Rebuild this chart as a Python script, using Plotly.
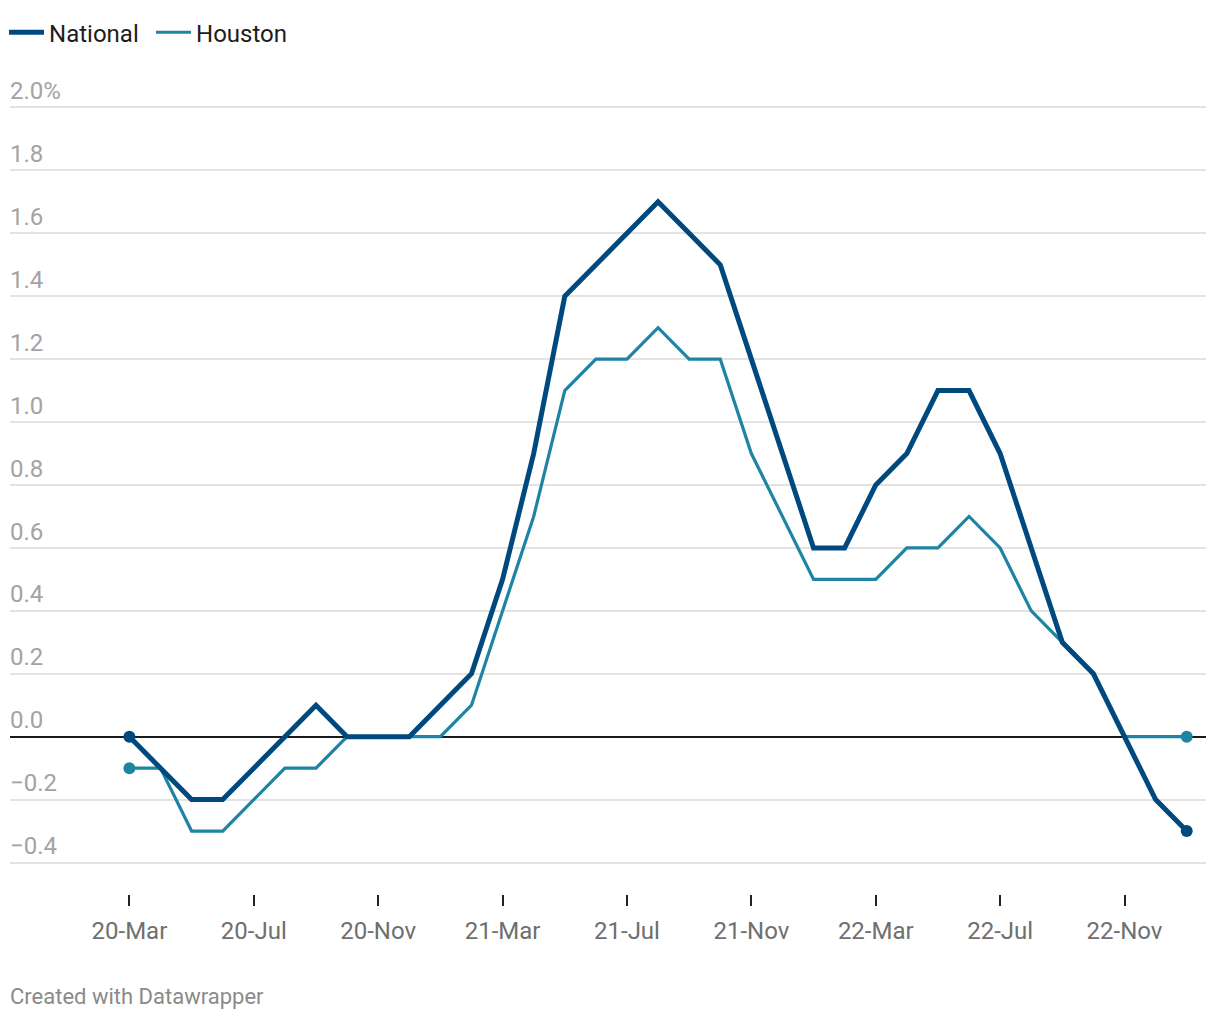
import plotly.graph_objects as go

months = ["20-Mar","20-Apr","20-May","20-Jun","20-Jul","20-Aug","20-Sep","20-Oct","20-Nov","20-Dec",
          "21-Jan","21-Feb","21-Mar","21-Apr","21-May","21-Jun","21-Jul","21-Aug","21-Sep","21-Oct",
          "21-Nov","21-Dec","22-Jan","22-Feb","22-Mar","22-Apr","22-May","22-Jun","22-Jul","22-Aug",
          "22-Sep","22-Oct","22-Nov","22-Dec","23-Jan"]
national = [0.0,-0.1,-0.2,-0.2,-0.1,0.0,0.1,0.0,0.0,0.0,
            0.1,0.2,0.5,0.9,1.4,1.5,1.6,1.7,1.6,1.5,
            1.2,0.9,0.6,0.6,0.8,0.9,1.1,1.1,0.9,0.6,
            0.3,0.2,0.0,-0.2,-0.3]
houston = [-0.1,-0.1,-0.3,-0.3,-0.2,-0.1,-0.1,0.0,0.0,0.0,
           0.0,0.1,0.4,0.7,1.1,1.2,1.2,1.3,1.2,1.2,
           0.9,0.7,0.5,0.5,0.5,0.6,0.6,0.7,0.6,0.4,
           0.3,0.2,0.0,0.0,0.0]
y_ticks = [-0.4,-0.2,0.0,0.2,0.4,0.6,0.8,1.0,1.2,1.4,1.6,1.8,2.0]
y_tick_text = ["−0.4","−0.2","0.0","0.2","0.4","0.6","0.8","1.0","1.2","1.4","1.6","1.8","2.0%"]
x_tick_labels = ["20-Mar","20-Jul","20-Nov","21-Mar","21-Jul","21-Nov","22-Mar","22-Jul","22-Nov"]

C_NAT = "#00497f"
C_HOU = "#1f84a3"

x = list(range(len(months)))
x_tick_vals = [months.index(m) for m in x_tick_labels]

fig = go.Figure()
fig.add_trace(go.Scatter(x=x, y=houston, mode="lines", name="Houston",
                         line=dict(color=C_HOU, width=3.2)))
fig.add_trace(go.Scatter(x=[x[0], x[-1]], y=[houston[0], houston[-1]], mode="markers",
                         marker=dict(color=C_HOU, size=12), showlegend=False, hoverinfo="skip"))
fig.add_trace(go.Scatter(x=x, y=national, mode="lines", name="National",
                         line=dict(color=C_NAT, width=5)))
fig.add_trace(go.Scatter(x=[x[0], x[-1]], y=[national[0], national[-1]], mode="markers",
                         marker=dict(color=C_NAT, size=12), showlegend=False, hoverinfo="skip"))

fig.update_layout(
    width=1212, height=1012,
    margin=dict(l=2, r=14, t=67.5, b=125.5, autoexpand=False),
    paper_bgcolor="white", plot_bgcolor="white",
    font=dict(family="Roboto", size=24, color="#222"),
    showlegend=True,
    legend=dict(orientation="h", x=-0.005, xanchor="left", y=1.053, yanchor="middle",
                traceorder="reversed", font=dict(size=24, color="#1d1d1d"),
                bgcolor="rgba(0,0,0,0)", itemwidth=35, entrywidth=97),
    xaxis=dict(range=[-3.84, 34.62], tickmode="array", tickvals=x_tick_vals, ticktext=x_tick_labels,
               showgrid=False, zeroline=False, showline=False, automargin=False,
               ticks="outside", ticklen=11, tickwidth=2, tickcolor="#222",
               tickfont=dict(size=24, color="#6f6f6f"), ticklabelstandoff=4),
    yaxis=dict(range=[-0.5, 2.1], tickmode="array", tickvals=y_ticks, ticktext=y_tick_text,
               ticklabelposition="inside top", tickfont=dict(size=24, color="#a3a3a3"),
               ticklabelstandoff=-3,
               showgrid=True, gridcolor="#e3e3e3", gridwidth=1.5, automargin=False,
               zeroline=True, zerolinecolor="#1a1a1a", zerolinewidth=1.5,
               showline=False, ticks=""),
    annotations=[dict(text="Created with Datawrapper", xref="paper", yref="paper",
                      x=-0.002, xanchor="left", y=-0.125, yanchor="middle", showarrow=False,
                      font=dict(size=22, color="#8a8a8a"))],
)

fig.write_html("out.html")
